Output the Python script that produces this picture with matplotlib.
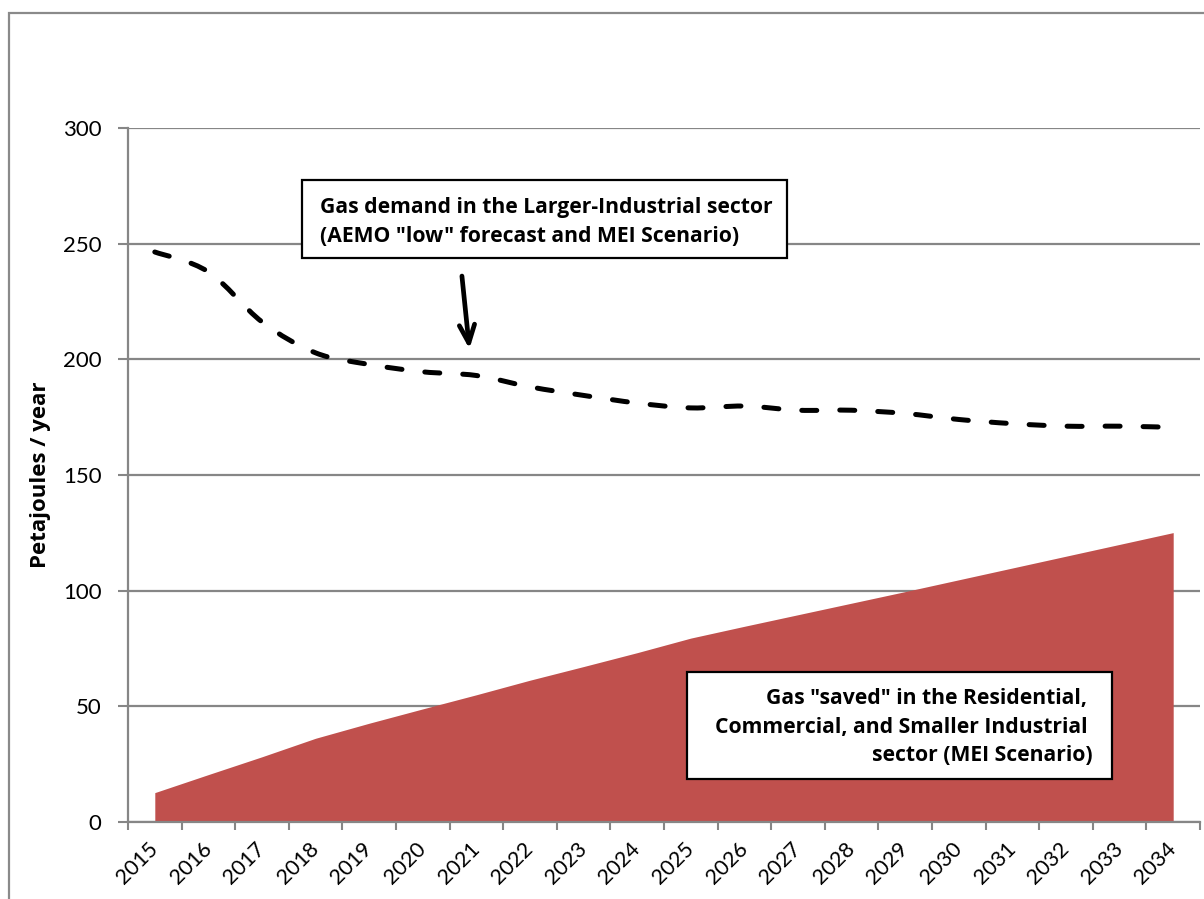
import matplotlib.pyplot as plt
import matplotlib.patches as mpatches
from matplotlib.path import Path
import numpy as np

plt.rcParams['font.family'] = ['Lato', 'DejaVu Sans']
bold_font = ['Open Sans', 'DejaVu Sans']

# Data
years = [str(y) for y in range(2015, 2035)]
demand_low = [246.4, 237.8, 216.2, 202.8, 197.8, 194.6, 193.0, 188.1, 184.4, 181.1,
              179.0, 179.8, 178.0, 178.0, 176.6, 174.0, 172.2, 171.1, 171.1, 170.6]
gas_saved = [12.7, 20.5, 28.2, 36.2, 42.7, 48.9, 55.0, 61.3, 67.2, 73.2,
             79.5, 84.6, 89.6, 94.6, 99.6, 104.7, 109.8, 114.9, 120.0, 125.1]

W, H = 1204, 899
fig = plt.figure(figsize=(W / 100, H / 100), dpi=100)

def fx(px):
    return px / W

def fy(py):
    return 1 - py / H

ax = fig.add_axes([fx(128), fy(822), fx(1200) - fx(128), fy(128) - fy(822)])

x = np.arange(len(years))
grey = '#868686'

# area for gas saved (straight segments, like an Excel area chart)
ax.fill_between(x, 0, gas_saved, color='#C0504D', linewidth=0, zorder=2)

# smoothed dashed line for the demand (Excel-style bezier smoothing)
pts = np.column_stack([x, demand_low])
verts = [tuple(pts[0])]
codes = [Path.MOVETO]
n = len(pts)
for i in range(n - 1):
    p0 = pts[max(i - 1, 0)]
    p1 = pts[i]
    p2 = pts[i + 1]
    p3 = pts[min(i + 2, n - 1)]
    c1 = p1 + (p2 - p0) / 6.0
    c2 = p2 - (p3 - p1) / 6.0
    verts += [tuple(c1), tuple(c2), tuple(p2)]
    codes += [Path.CURVE4] * 3
line = mpatches.PathPatch(Path(verts, codes), fill=False, edgecolor='black',
                          linewidth=3.6, linestyle=(0, (3.0, 4.6)), zorder=3)
line.set_capstyle('round')
ax.add_patch(line)

ax.set_xlim(-0.5, len(years) - 0.5)
ax.set_ylim(0, 300)
ax.set_yticks(range(0, 301, 50))
ax.yaxis.grid(True, color=grey, linewidth=1.6)
ax.set_axisbelow(True)

# ticks between categories, labels at centres
ax.set_xticks(np.arange(-0.5, len(years), 1.0))
ax.set_xticklabels([])
ax.set_xticks(x, minor=True)
ax.set_xticklabels(years, minor=True, rotation=45, ha='right', va='center',
                   rotation_mode='anchor', fontsize=15.5)
ax.tick_params(axis='x', which='major', length=6, width=1.5, color=grey)
ax.tick_params(axis='x', which='minor', length=0, pad=17)
ax.tick_params(axis='y', length=7, width=1.5, color=grey, labelsize=16, pad=12)

for s in ['top', 'right']:
    ax.spines[s].set_visible(False)
for s in ['left', 'bottom']:
    ax.spines[s].set_color(grey)
    ax.spines[s].set_linewidth(1.6)

ax.set_ylabel('Petajoules / year', fontsize=16, fontweight='bold', family=bold_font)
ax.yaxis.set_label_coords(fx(51 - 128) / (fx(1200) - fx(128)), 0.5)

# annotation boxes
box1 = mpatches.Rectangle((fx(302), fy(258)), fx(787) - fx(302), fy(180) - fy(258),
                          transform=fig.transFigure, facecolor='white',
                          edgecolor='black', linewidth=1.6, zorder=5)
fig.patches.append(box1)
fig.text(fx(320), fy(222), 'Gas demand in the Larger-Industrial sector\n'
         '(AEMO "low" forecast and MEI Scenario)', ha='left', va='center',
         fontsize=15.2, fontweight='bold', family=bold_font, linespacing=1.5,
         zorder=6)

box2 = mpatches.Rectangle((fx(687), fy(779)), fx(1112) - fx(687), fy(672) - fy(779),
                          transform=fig.transFigure, facecolor='white',
                          edgecolor='black', linewidth=1.6, zorder=5)
fig.patches.append(box2)
fig.text(fx(1093), fy(727), 'Gas "saved" in the Residential, \n'
         'Commercial, and Smaller Industrial \nsector (MEI Scenario)',
         ha='right', va='center', multialignment='right',
         fontsize=15.2, fontweight='bold', family=bold_font, linespacing=1.45,
         zorder=6)

# arrow pointing at the dashed line
ax.annotate('', xy=(5.87, 204.5), xytext=(5.73, 236),
            arrowprops=dict(arrowstyle='->,head_length=1.3,head_width=0.55',
                            color='black', linewidth=3.4, shrinkA=0, shrinkB=0))

# outer chart border (runs off the right and bottom of the picture)
border = mpatches.Rectangle((fx(9), -0.1), 1.2, fy(13) + 0.1,
                            transform=fig.transFigure, fill=False,
                            edgecolor='#8a8a8a', linewidth=1.6)
fig.patches.append(border)

fig.savefig('out.png', dpi=100)
